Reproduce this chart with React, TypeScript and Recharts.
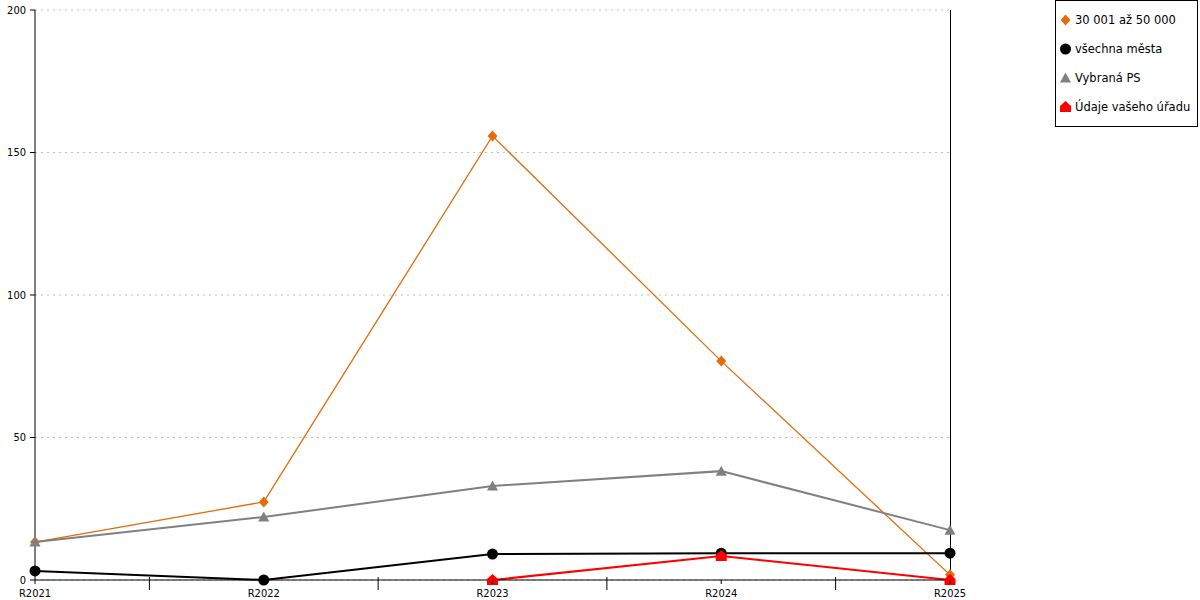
import React from 'react';
import { LineChart, Line, XAxis, YAxis, CartesianGrid, ReferenceLine } from 'recharts';

const categories = ['R2021', 'R2022', 'R2023', 'R2024', 'R2025'];
const cityGroup = [13.3, 27.4, 155.8, 76.8, 1.8];
const allCities = [3.2, 0, 9.1, 9.4, 9.4];
const selectedPs = [13.3, 22.1, 33.0, 38.2, 17.5];
const yourOffice = [null, null, 0, 8.4, 0];
const yTicks = [0, 50, 100, 150, 200];

const seriesNames = ['30 001 až 50 000', 'všechna města', 'Vybraná PS', 'Údaje vašeho úřadu'];
const seriesColors = ['#e36c0a', '#000000', '#808080', '#ff0000'];

const data = categories.map((c, i) => ({
  idx: i,
  name: c,
  cityGroup: cityGroup[i],
  allCities: allCities[i],
  selectedPs: selectedPs[i],
  yourOffice: yourOffice[i],
}));

// category ticks plus the half-way minor ticks
const xTicks = categories.flatMap((_, i) => (i < categories.length - 1 ? [i, i + 0.5] : [i]));

const TICK_FONT = '"DejaVu Sans Condensed", "DejaVu Sans", sans-serif';
const LEGEND_FONT = '"DejaVu Sans", Verdana, sans-serif';

const shapePath = (kind: number, cx: number, cy: number) => {
  if (kind === 0) return `M${cx},${cy - 5.5} L${cx + 5},${cy} L${cx},${cy + 5.5} L${cx - 5},${cy} Z`;
  if (kind === 2) return `M${cx},${cy - 5.5} L${cx + 5.5},${cy + 4.5} L${cx - 5.5},${cy + 4.5} Z`;
  if (kind === 3)
    return `M${cx},${cy - 6} L${cx + 5.5},${cy - 1} L${cx + 5.5},${cy + 5} L${cx - 5.5},${cy + 5} L${cx - 5.5},${cy - 1} Z`;
  return '';
};

const Marker = ({ kind, cx, cy, color }: { kind: number; cx: number; cy: number; color: string }) =>
  kind === 1 ? <circle cx={cx} cy={cy} r={5.5} fill={color} /> : <path d={shapePath(kind, cx, cy)} fill={color} />;

const makeDot = (kind: number) => (props: any) => {
  const { cx, cy, value, index } = props;
  if (value === null || value === undefined || cx == null || cy == null) return <g key={`d${kind}-${index}`} />;
  return (
    <g key={`d${kind}-${index}`}>
      <Marker kind={kind} cx={cx} cy={cy} color={seriesColors[kind]} />
    </g>
  );
};

const XTick = (props: any) => {
  const { x, y, payload } = props;
  const v = payload.value as number;
  const major = Number.isInteger(v);
  return (
    <g>
      <line x1={x} y1={y - (major ? 0 : 3)} x2={x} y2={y + (major ? 4 : 10)} stroke="#000" />
      {major && (
        <text x={x} y={y + 17} textAnchor="middle" fontSize={11} fontFamily={TICK_FONT} fill="#000">
          {categories[v]}
        </text>
      )}
    </g>
  );
};

const LegendBox = () => (
  <div
    style={{
      position: 'absolute',
      left: 1055,
      top: 0,
      width: 141,
      height: 125,
      border: '1px solid #000',
      background: '#fff',
      fontFamily: LEGEND_FONT,
      fontSize: 11.5,
    }}
  >
    {seriesNames.map((n, i) => (
      <div key={n} style={{ position: 'absolute', left: 3, top: 11 + i * 29, height: 16, display: 'flex', alignItems: 'center' }}>
        <svg width={15} height={16} style={{ marginRight: 1 }}>
          <Marker kind={i} cx={6.5} cy={8} color={seriesColors[i]} />
        </svg>
        <span style={{ whiteSpace: 'nowrap' }}>{n}</span>
      </div>
    ))}
  </div>
);

export default function App() {
  return (
    <div style={{ position: 'absolute', left: 0, top: 0, width: 1200, height: 600, background: '#fff' }}>
      <LineChart width={1200} height={600} data={data} margin={{ top: 10, right: 250, bottom: 0, left: 0 }}>
        <CartesianGrid vertical={false} stroke="#c0c0c0" strokeDasharray="2 4" />
        <XAxis
          dataKey="idx"
          type="number"
          domain={[0, 4]}
          ticks={xTicks}
          interval={0}
          height={20}
          tickSize={0}
          tickMargin={0}
          tickLine={false}
          axisLine={{ stroke: '#000' }}
          tick={<XTick />}
        />
        <YAxis
          domain={[0, 200]}
          ticks={yTicks}
          width={35}
          tickSize={5}
          tickMargin={4}
          axisLine={{ stroke: '#000' }}
          tickLine={{ stroke: '#000' }}
          tick={{ fill: '#000', fontSize: 11, fontFamily: TICK_FONT }}
        />
        <ReferenceLine x={4} stroke="#000" strokeWidth={1} shapeRendering="crispEdges" />
        <Line
          dataKey="cityGroup"
          name={seriesNames[0]}
          stroke={seriesColors[0]}
          strokeWidth={1.3}
          dot={makeDot(0)}
          activeDot={false}
          isAnimationActive={false}
        />
        <Line
          dataKey="allCities"
          name={seriesNames[1]}
          stroke={seriesColors[1]}
          strokeWidth={2}
          dot={makeDot(1)}
          activeDot={false}
          isAnimationActive={false}
        />
        <Line
          dataKey="selectedPs"
          name={seriesNames[2]}
          stroke={seriesColors[2]}
          strokeWidth={2}
          dot={makeDot(2)}
          activeDot={false}
          isAnimationActive={false}
        />
        <Line
          dataKey="yourOffice"
          name={seriesNames[3]}
          stroke={seriesColors[3]}
          strokeWidth={2}
          dot={makeDot(3)}
          activeDot={false}
          isAnimationActive={false}
        />
      </LineChart>
      <LegendBox />
    </div>
  );
}
